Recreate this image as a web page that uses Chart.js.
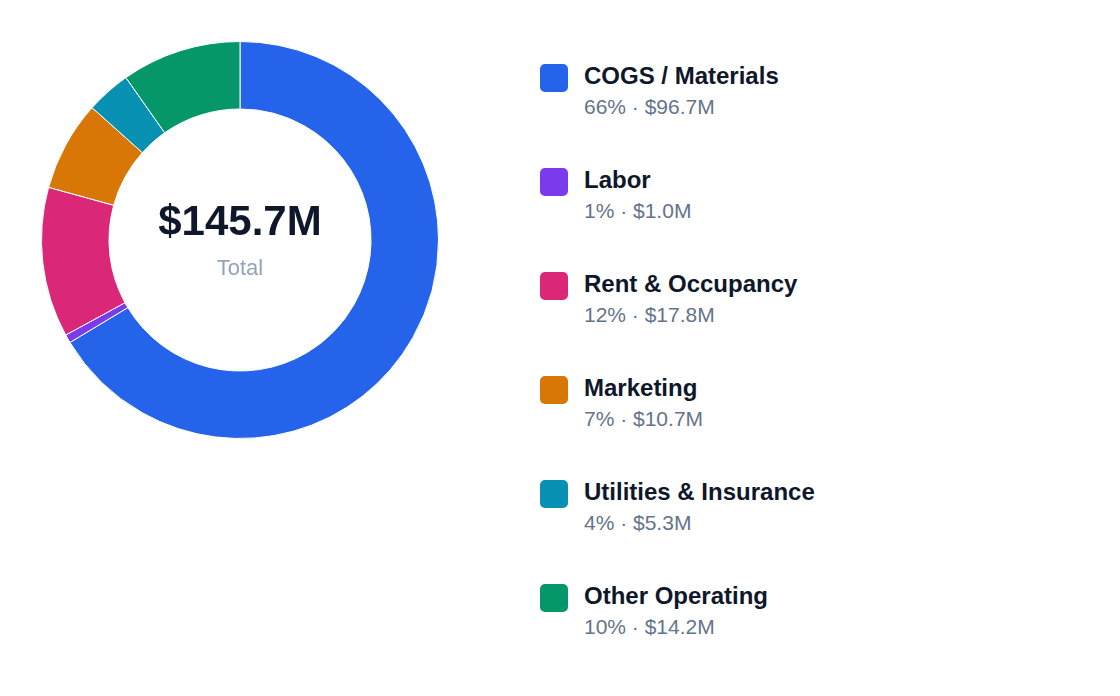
<!DOCTYPE html>
<html>
<head>
<meta charset="utf-8">
<script src="https://cdn.jsdelivr.net/npm/chart.js@4/dist/chart.umd.min.js"></script>
<style>
  body { margin: 0; background: #fff; font-family: "Liberation Sans", Arial, sans-serif; }
  #wrap { position: relative; width: 1120px; height: 696px; }
  #chartBox { position: absolute; left: 41px; top: 41px; width: 398px; height: 398px; }
  #center { position: absolute; left: 41px; top: 41px; width: 398px; height: 398px; pointer-events: none; }
  #center .big { position: absolute; top: 156px; width: 100%; text-align: center; font-size: 42px; font-weight: bold; color: #0f172a; }
  #center .small { position: absolute; top: 214px; width: 100%; text-align: center; font-size: 22px; color: #94a3b8; }
  #legend { position: absolute; left: 540px; top: 62px; }
  .item { position: relative; height: 104px; }
  .sw { position: absolute; left: 0; top: 2px; width: 28px; height: 28px; border-radius: 5px; }
  .lab { position: absolute; left: 44px; top: 0; font-size: 24px; font-weight: bold; color: #0f172a; white-space: nowrap; }
  .sub { position: absolute; left: 44px; top: 33px; font-size: 21px; color: #64748b; white-space: nowrap; }
</style>
</head>
<body>
<div id="wrap">
  <div id="chartBox"><canvas id="donut"></canvas></div>
  <div id="center"><div class="big">$145.7M</div><div class="small">Total</div></div>
  <div id="legend"></div>
</div>
<script>
const categories = ['COGS / Materials', 'Labor', 'Rent & Occupancy', 'Marketing', 'Utilities & Insurance', 'Other Operating'];
const values = [96.7, 1.0, 17.8, 10.7, 5.3, 14.2];
const percents = ['66%', '1%', '12%', '7%', '4%', '10%'];
const colors = ['#2563eb', '#7c3aed', '#db2777', '#d97706', '#0891b2', '#059669'];

const legend = document.getElementById('legend');
categories.forEach((cat, i) => {
    const item = document.createElement('div');
    item.className = 'item';
    item.innerHTML = `
        <div class="sw" style="background:${colors[i]}"></div>
        <div class="lab">${cat.replace('&', '&amp;')}</div>
        <div class="sub">${percents[i]} · $${values[i].toFixed(1)}M</div>
    `;
    legend.appendChild(item);
});

new Chart(document.getElementById('donut').getContext('2d'), {
    type: 'doughnut',
    data: {
        labels: categories,
        datasets: [{
            data: values,
            backgroundColor: colors,
            borderColor: '#ffffff',
            borderWidth: 1
        }]
    },
    options: {
        responsive: true,
        maintainAspectRatio: false,
        animation: false,
        cutout: '66%',
        plugins: {
            legend: { display: false },
            tooltip: { enabled: false }
        }
    }
});
</script>
</body>
</html>
